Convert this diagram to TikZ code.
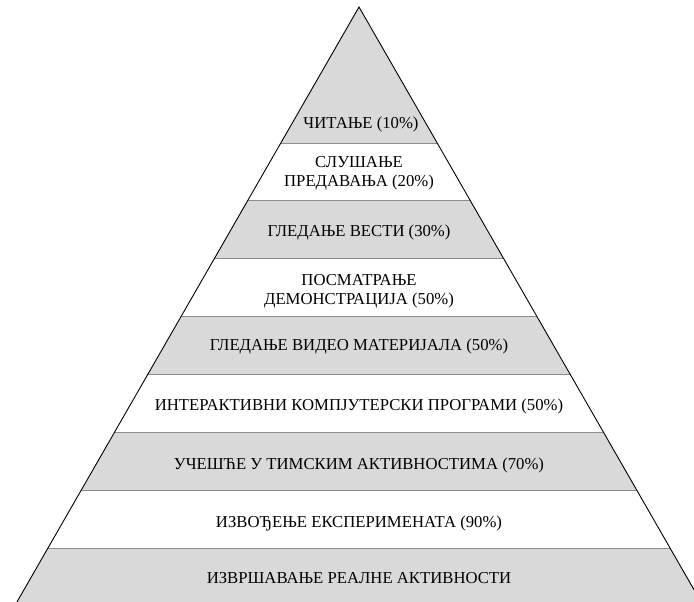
\documentclass[tikz,border=0pt]{standalone}
\usepackage{fontspec}
\setmainfont{Liberation Serif}
\begin{document}
\begin{tikzpicture}[x=1pt,y=-1pt,
  lbl/.style={align=center,inner sep=0pt,font=\fontsize{16.7}{19}\selectfont},
  band/.style={fill=bandgray,draw=none},
  divider/.style={draw=divgray,line width=0.9pt},
  edge/.style={draw=black,line width=0.9pt,line join=miter}]
\definecolor{bandgray}{HTML}{D9D9D9}
\definecolor{divgray}{HTML}{8C8C8C}
\useasboundingbox (0,0) rectangle (694,602);
\coordinate (apex) at (359,7);
\coordinate (bl) at ({359-0.5749*(640-7)},640);
\coordinate (br) at ({359+0.5749*(640-7)},640);
\begin{scope}
  \clip (0,0) rectangle (694,602);
  \begin{scope}
    \clip (apex) -- (bl) -- (br) -- cycle;
    \fill[band] (0,0) rectangle (694,143);
    \fill[band] (0,200) rectangle (694,258);
    \fill[band] (0,316) rectangle (694,374);
    \fill[band] (0,432) rectangle (694,490);
    \fill[band] (0,548) rectangle (694,640);
    \foreach \yy in {143,200,258,316,374,432,490,548}
      \draw[divider] (0,\yy) -- (694,\yy);
  \end{scope}
  \draw[edge] (bl) -- (apex) -- (br);
\end{scope}
\node[lbl] (t1) at (361,124) {ЧИТАЊЕ (10\%)};
\node[lbl] (t2) at (359,173) {СЛУШАЊЕ\\ПРЕДАВАЊА (20\%)};
\node[lbl] (t3) at (359,232) {ГЛЕДАЊЕ ВЕСТИ (30\%)};
\node[lbl] (t4) at (359,291) {ПОСМАТРАЊЕ\\ДЕМОНСТРАЦИЈА (50\%)};
\node[lbl] (t5) at (359,346) {ГЛЕДАЊЕ ВИДЕО МАТЕРИЈАЛА (50\%)};
\node[lbl] (t6) at (359,406) {ИНТЕРАКТИВНИ КОМПЈУТЕРСКИ ПРОГРАМИ (50\%)};
\node[lbl] (t7) at (359,465) {УЧЕШЋЕ У ТИМСКИМ АКТИВНОСТИМА (70\%)};
\node[lbl] (t8) at (359,523) {ИЗВОЂЕЊЕ ЕКСПЕРИМЕНАТА (90\%)};
\node[lbl] (t9) at (359,578) {ИЗВРШАВАЊЕ РЕАЛНЕ АКТИВНОСТИ};
\end{tikzpicture}
\end{document}
